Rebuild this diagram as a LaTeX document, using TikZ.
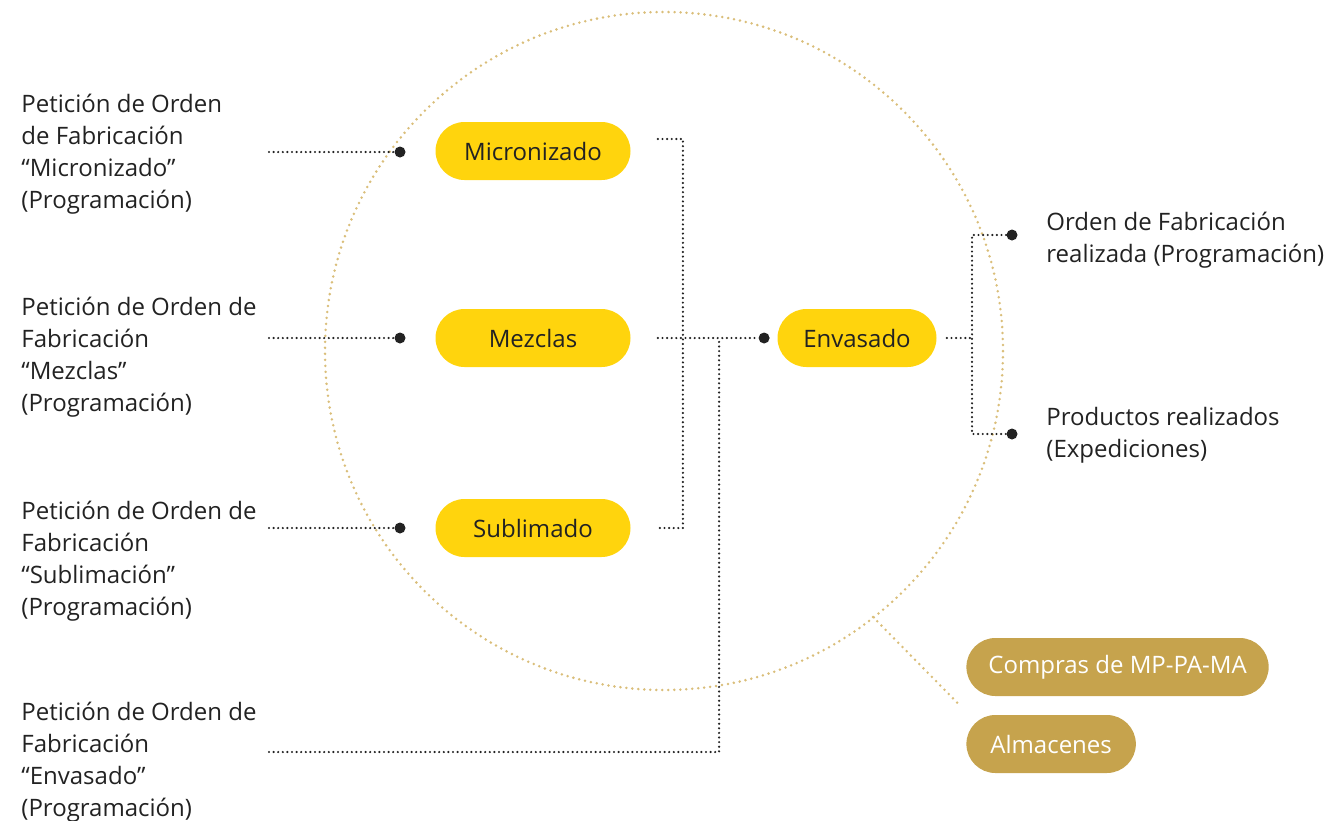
\documentclass[tikz,border=0pt]{standalone}
\usepackage{fontspec}
\setmainfont{Open Sans}
\usepackage{tikz}
\usetikzlibrary{calc}
\definecolor{ink}{RGB}{34,34,34}
\definecolor{yolk}{RGB}{255,212,13}
\definecolor{ochre}{RGB}{198,163,77}
\definecolor{sand}{RGB}{218,190,122}

\begin{document}
\begin{tikzpicture}[x=0.5pt,y=-0.5pt,
  every node/.style={font=\fontsize{12}{16}\selectfont, text=ink},
  pill/.style={fill=yolk, rounded corners=14.5pt, minimum height=29pt, minimum width=97.5pt, inner sep=0pt},
  goldpill/.style={fill=ochre, rounded corners=14.5pt, minimum height=29pt, inner xsep=11pt, text=white},
  request/.style={align=left, anchor=north west, inner sep=0pt},
  wire/.style={draw=ink, line width=1.2pt, line cap=round, dash pattern=on 0pt off 2.3pt},
  ring/.style={draw=sand, line width=1.4pt, line cap=round, dash pattern=on 0pt off 3pt},
  blob/.style={circle, fill=ink, inner sep=0pt, minimum size=5.5pt}]

\useasboundingbox (0,0) rectangle (1329,820);

% dotted ring round the process
\draw[ring] (664,351) circle [radius=169.5pt];

% processes
\node[pill] (micro) at (533,151) {Micronizado};
\node[pill] (mezcla) at (533,338) {Mezclas};
\node[pill] (subli) at (533,528) {Sublimado};
\node[pill, minimum width=79.5pt] (envase) at (857,338) {Envasado};

\node[goldpill, anchor=west] (compras) at (966,667) {Compras de MP-PA-MA};
\node[goldpill, anchor=west, inner xsep=12pt] (almacen) at (966,744) {Almacenes};

% requests on the left
\node[request] (reqmicro) at (21,94) {Petición de Orden\\de Fabricación\\“Micronizado”\\(Programación)};
\node[request] (reqmezcla) at (21,297) {Petición de Orden de\\Fabricación\\“Mezclas”\\(Programación)};
\node[request] (reqsubli) at (21,501) {Petición de Orden de\\Fabricación\\“Sublimación”\\(Programación)};
\node[request] (reqenvase) at (21,702) {Petición de Orden de\\Fabricación\\“Envasado”\\(Programación)};

% results on the right
\node[request] (orden) at (1046,212) {Orden de Fabricación\\realizada (Programación)};
\node[request] (prods) at (1046,407) {Productos realizados\\(Expediciones)};

% joints
\node[blob] (dmicro) at (400,152) {};
\node[blob] (dmezcla) at (400,338) {};
\node[blob] (dsubli) at (400,528) {};
\node[blob] (denv) at ([xshift=-6.5pt]envase.west) {};
\node[blob] (dorden) at (1012,235) {};
\node[blob] (dprod) at (1012,434) {};

\coordinate (s1) at (269,152);
\coordinate (s2) at (269,338);
\coordinate (s3) at (269,528);
\coordinate (s4) at (269,752);
\coordinate (split) at (972,338);

\draw[wire] (s1) -- (dmicro);
\draw[wire] (s2) -- (dmezcla);
\draw[wire] (s3) -- (dsubli);
\draw[wire] (s4) -| ($(denv)+(-45,0)$);

\draw[wire] ([xshift=13.5pt,yshift=6pt]micro.east) -| ([xshift=26pt]subli.east) -- ([xshift=13.5pt]subli.east);
\draw[wire] ([xshift=13.5pt]mezcla.east) -- (denv);

\draw[wire] ([xshift=5pt]envase.east) -- (split);
\draw[wire] (dorden) -| (split) |- (dprod);

% link from the ring to the support areas
\coordinate (ringpt) at (873,617);
\draw[ring] (ringpt) -- ($(compras.south west)!0.5!(almacen.north west)+(-6,0)$);
\end{tikzpicture}
\end{document}
